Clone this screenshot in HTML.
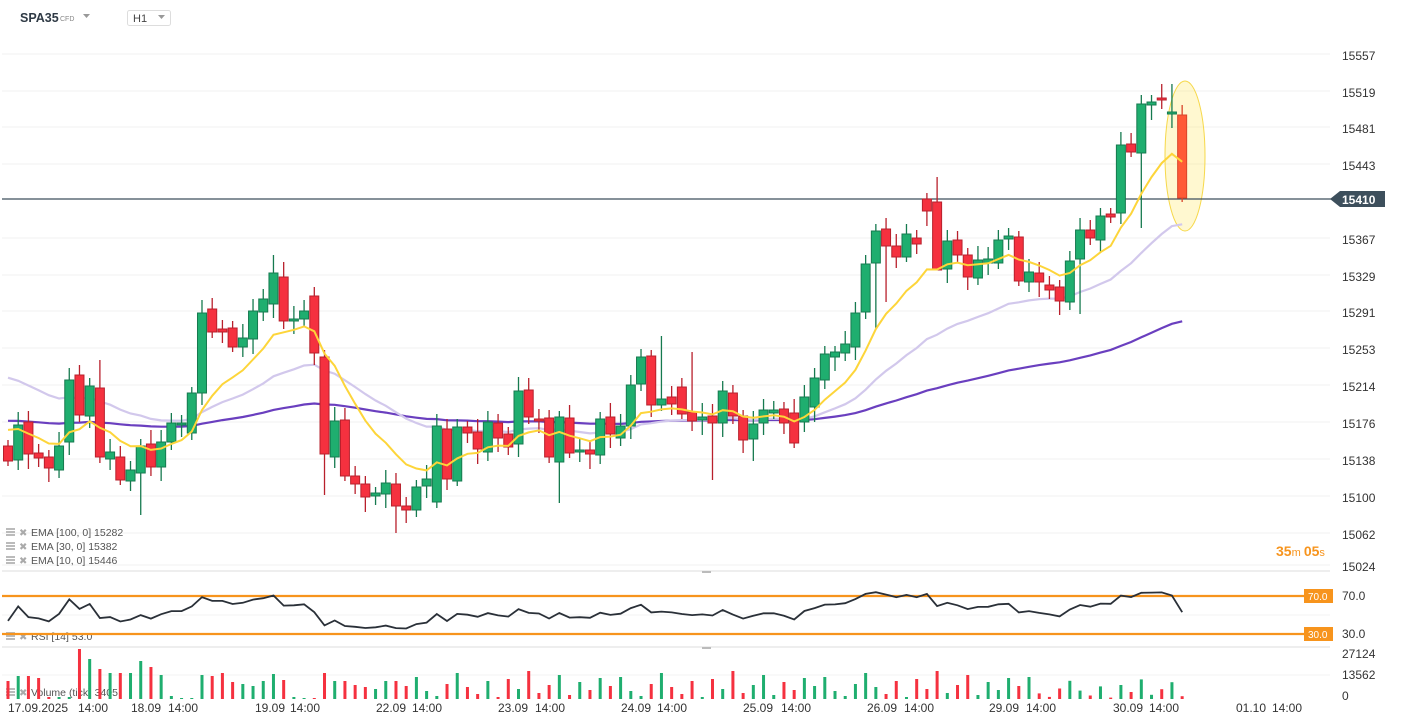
<!DOCTYPE html>
<html><head><meta charset="utf-8"><style>
body{margin:0;width:1402px;height:725px;background:#fff;overflow:hidden;font-family:"Liberation Sans",sans-serif}
svg{position:absolute;left:0;top:0}
</style></head><body>
<svg id="s" width="1402" height="725" xmlns="http://www.w3.org/2000/svg" font-family="Liberation Sans, sans-serif"></svg>
<script>
const S=document.getElementById('s');let h='';
h+='<text x="20" y="22" font-size="12.5" font-weight="bold" fill="#2f3a45">SPA35</text><text x="60" y="21" font-size="7" fill="#888">CFD</text><path d="M83 14h7l-3.5 4z" fill="#999"/>';
h+='<rect x="127.5" y="10.5" width="43" height="15" fill="#fff" stroke="#ddd" rx="2"/><text x="133" y="22" font-size="11" fill="#444">H1</text><path d="M158 15h7l-3.5 4z" fill="#999"/>';
const lv=[[15557,56],[15519,93],[15481,129],[15443,166],[15367,240],[15329,277],[15291,313],[15253,350],[15214,387],[15176,424],[15138,461],[15100,498],[15062,535],[15024,567]];
h+='<line x1="2" y1="54" x2="1330" y2="54" stroke="#eee"/>';
lv.forEach(([p,y])=>{h+=`<line x1="2" y1="${y-2}" x2="1330" y2="${y-2}" stroke="#f0f0f0"/><text x="1342" y="${y+4}" font-size="12" fill="#333">${p}</text>`});
h+='<line x1="2" y1="571" x2="1330" y2="571" stroke="#ddd"/><line x1="2" y1="647" x2="1330" y2="647" stroke="#ddd"/><line x1="2" y1="615" x2="1330" y2="615" stroke="#f3f3f3"/><line x1="2" y1="675" x2="1330" y2="675" stroke="#f3f3f3"/>';
h+='<rect x="702" y="571" width="9" height="2" fill="#bbb"/><rect x="702" y="647" width="9" height="2" fill="#bbb"/>';
const C=[['r',446,461],['g',425,460],['r',422,454],['r',453,458],['r',457,468],['g',446,470],['g',380,442],['r',375,415],['g',386,416],['r',388,457],['g',452,459],['r',457,480],['g',470,481],['g',446,473],['r',444,467],['g',442,467],['g',423,442],['g',423,424],['g',393,433],['g',313,393],['r',309,332],['r',329,332],['r',328,347],['g',338,347],['g',311,339],['g',299,312],['g',273,304],['r',277,321],['g',319,321],['g',311,319],['r',296,353],['r',357,454],
['g',421,457],['r',420,476],['r',476,484],['r',484,497],['g',493,496],['g',483,494],['r',484,506],['r',506,510],['g',487,510],['g',479,486],['g',426,502],['r',429,479],['g',427,481],['r',427,433],['r',432,449],['g',422,452],['r',423,438],['r',434,447],['g',391,444],['r',390,417],['r',419,421],['r',418,457],['g',417,462],['r',418,453],['g',450,452],['r',450,454],['g',419,455],['r',417,434],['g',426,438],['g',385,426],['g',357,384],
['r',356,405],['g',399,405],['r',397,404],['r',387,414],['r',412,421],['g',417,420],['r',416,423],['g',391,423],['r',393,416],['r',416,440],['g',424,439],['g',410,423],['g',410,413],['r',409,423],['r',413,443],['g',397,422],['g',378,407],['g',354,380],['g',352,357],['g',344,353],['g',313,347],['g',264,312],['g',231,263],['r',229,246],['r',246,257],['g',234,257],['r',238,244],['r',199,211],['r',202,270],['g',241,269],
['r',240,255],['r',255,277],['g',260,278],['g',259,263],['g',240,263],['g',236,239],['r',237,281],['g',272,282],['r',273,282],['r',285,290],['r',287,301],['g',261,302],['g',230,259],['r',230,238],['g',216,240],['r',214,217],['g',145,213],['r',144,152],['g',104,153],['g',102,105],['r',98,100],['g',112,114],['o',115,198]];
const W={13:[null,515],26:[255,null],27:[262,null],31:[null,495],38:[null,533],54:[null,503],64:[336,null],67:[352,null],69:[null,480],73:[null,461],85:[null,328],86:[218,302],91:[177,224],104:[251,null],105:[null,314],111:[null,228],114:[84,null],115:[null,202],9:[360,null]};
const X=i=>8+i*10.21;
h+='<ellipse cx="1185" cy="156" rx="20" ry="75" fill="rgba(255,236,120,0.35)" stroke="#f6d84a" stroke-width="1"/>';
h+='<line x1="2" y1="199" x2="1332" y2="199" stroke="#3d4f5c" stroke-width="1.2"/><path d="M1330 199l10-8h45v16h-45z" fill="#3d4f5c"/><text x="1342" y="204" font-size="12" font-weight="bold" fill="#fff">15410</text>';
function ema(n,init){let e=init,pts=[];const k=2/(n+1);C.forEach((c,i)=>{const cl=c[0]=='g'?c[1]:c[2];e=e+k*(cl-e);pts.push(X(i).toFixed(1)+','+e.toFixed(1))});return pts.join(' ')}
h+=`<polyline points="${ema(100,420)}" fill="none" stroke="#6a3fbf" stroke-width="2.2"/>`;
h+=`<polyline points="${ema(30,372)}" fill="none" stroke="#d2c8ec" stroke-width="2.2"/>`;
let cs='';
C.forEach((c,i)=>{const x=X(i);const col=c[0]=='g'?'#1fae6f':c[0]=='r'?'#f5313f':'#ff5a36';const st=c[0]=='g'?'#167a4f':c[0]=='r'?'#b8202c':'#d9452a';
let t=c[1]-6-(i*7%9),b=c[2]+5+(i*5%11);if(W[i]){if(W[i][0])t=W[i][0];if(W[i][1])b=W[i][1];}
cs+=`<line x1="${x}" y1="${t}" x2="${x}" y2="${b}" stroke="${st}" stroke-width="1.3"/><rect x="${x-4.5}" y="${c[1]}" width="9" height="${Math.max(2,c[2]-c[1])}" fill="${col}" stroke="${st}" stroke-width="1"/>`;});
h+=cs;
h+=`<polyline points="${ema(10,423)}" fill="none" stroke="#fdd53a" stroke-width="2"/>`;
[['EMA [100, 0] 15282',536],['EMA [30, 0] 15382',550],['EMA [10, 0] 15446',564],['RSI [14] 53.0',640],['Volume (tick) 3405',696]].forEach(([t,y])=>{h+=`<rect x="6" y="${y-8}" width="9" height="2" fill="#bbb"/><rect x="6" y="${y-5}" width="9" height="2" fill="#bbb"/><rect x="6" y="${y-2}" width="9" height="2" fill="#bbb"/><text x="19" y="${y}" font-size="10" fill="#aaa">✖</text><text x="31" y="${y}" font-size="10.5" fill="#555">${t}</text>`});
h+='<text x="1276" y="556" font-size="14" font-weight="bold" fill="#f7941d">35<tspan font-size="11" font-weight="normal">m </tspan>05<tspan font-size="11" font-weight="normal">s</tspan></text>';
h+='<line x1="2" y1="596" x2="1330" y2="596" stroke="#f7941d" stroke-width="2.2"/><line x1="2" y1="634" x2="1330" y2="634" stroke="#f7941d" stroke-width="2.2"/>';
h+='<rect x="1304" y="589" width="29" height="14" fill="#f7941d"/><text x="1308" y="600" font-size="10" fill="#fff">70.0</text><rect x="1304" y="627" width="29" height="14" fill="#f7941d"/><text x="1308" y="638" font-size="10" fill="#fff">30.0</text>';
h+='<text x="1342" y="600" font-size="12" fill="#333">70.0</text><text x="1342" y="638" font-size="12" fill="#333">30.0</text>';
let ag=3.5,al=4.5,pr=[];let prev=C[0][0]=='g'?C[0][1]:C[0][2];
C.forEach((c,i)=>{const cl=c[0]=='g'?c[1]:c[2];const d=prev-cl;prev=cl;ag=(ag*13+Math.max(d,0))/14;al=(al*13+Math.max(-d,0))/14;let r=100-100/(1+ag/al);r=Math.max(32,Math.min(74,r));pr.push(X(i).toFixed(1)+','+(596+(70-r)*0.95).toFixed(1))});
h+=`<polyline points="${pr.join(' ')}" fill="none" stroke="#2a3038" stroke-width="1.8"/>`;
h+='<text x="1342" y="658" font-size="12" fill="#333">27124</text><text x="1342" y="679" font-size="12" fill="#333">13562</text><text x="1342" y="700" font-size="12" fill="#333">0</text>';
const vh=[18,23,23,21,2,2,2,50,40,30,26,26,26,38,32,24,3,1,1,24,23,26,17,15,13,18,25,19,2,1,1,26,18,18,14,12,10,18,18];
let vs='';C.forEach((c,i)=>{let v=i<vh.length?vh[i]:[22,8,3,15,26,12,5,18,2,20,10,28,6,14,24,4,17,9,21,13][i%20]*(i>100?0.7:1);const col=c[0]=='g'?'#1fae6f':'#f5313f';vs+=`<rect x="${X(i)-1.5}" y="${699-v}" width="3" height="${v}" fill="${col}"/>`});
h+=vs;
[['17.09.2025',8],['14:00',78],['18.09',131],['14:00',168],['19.09',255],['14:00',290],['22.09',376],['14:00',412],['23.09',498],['14:00',535],['24.09',621],['14:00',657],['25.09',743],['14:00',781],['26.09',867],['14:00',904],['29.09',989],['14:00',1026],['30.09',1113],['14:00',1149],['01.10',1236],['14:00',1272]].forEach(([t,x])=>{h+=`<text x="${x}" y="712" font-size="12" fill="#333">${t}</text>`});
S.innerHTML=h;
</script>
</body></html>
